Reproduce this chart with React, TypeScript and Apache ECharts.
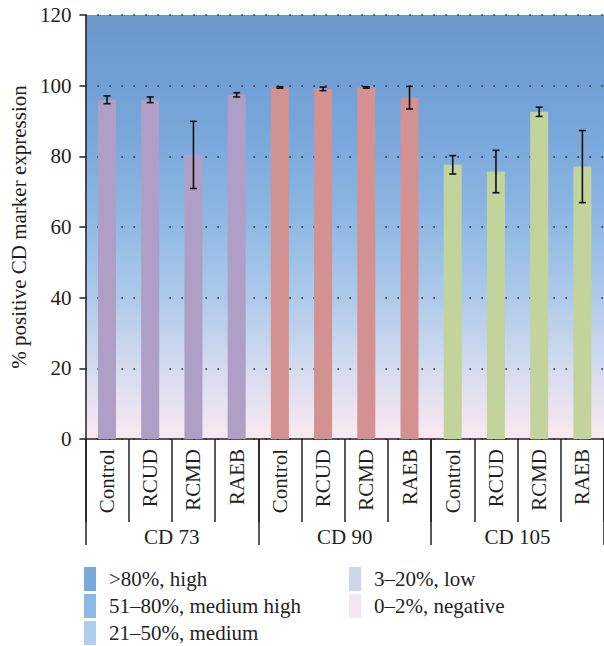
import React, { useEffect, useRef } from "react";
import * as echarts from "echarts";

const groups = ["CD 73", "CD 90", "CD 105"];
const subCategories = [
  "Control", "RCUD", "RCMD", "RAEB",
  "Control", "RCUD", "RCMD", "RAEB",
  "Control", "RCUD", "RCMD", "RAEB",
];
const means = [96.0, 96.0, 80.4, 97.4, 99.5, 99.1, 99.5, 96.6, 77.6, 75.7, 92.6, 77.1];
const errors = [1.1, 0.8, 9.5, 0.6, 0.2, 0.5, 0.2, 3.2, 2.6, 6.0, 1.3, 10.2];
const groupColors = ["#AF9EC5", "#D49192", "#C2D39C"];
const yTicks = { min: 0, max: 120, interval: 20 };
const legendLabels = [
  ">80%, high",
  "51–80%, medium high",
  "21–50%, medium",
  "3–20%, low",
  "0–2%, negative",
];
const legendColors = ["#79A9DA", "#8DB9E5", "#AFCDEC", "#CBD6EC", "#F3E6F0"];

const FONT = "Liberation Serif";
const FS = 21;
const TXT = "#231F20";

export default function App() {
  const ref = useRef<HTMLDivElement>(null);
  useEffect(() => {
    if (!ref.current) return;
    const chart = echarts.init(ref.current, undefined, { renderer: "svg" });

    const legendGraphics: any[] = [];
    legendLabels.forEach((label, i) => {
      const col = i < 3 ? 0 : 1;
      const row = i < 3 ? i : i - 3;
      const sx = col === 0 ? 84 : 349;
      const sy = 567 + row * 27;
      legendGraphics.push({
        type: "rect",
        shape: { x: sx, y: sy, width: 12, height: 24 },
        style: { fill: legendColors[i] },
      });
      legendGraphics.push({
        type: "text",
        x: sx + 25,
        y: sy + 12,
        style: {
          text: label,
          fontFamily: FONT,
          fontSize: FS,
          fill: TXT,
          verticalAlign: "middle",
          align: "left",
        },
      });
    });

    const bg = new echarts.graphic.LinearGradient(0, 0, 0, 1, [
      { offset: 0, color: "#6A96CC" },
      { offset: 0.17, color: "#72A0D5" },
      { offset: 0.33, color: "#7EABDD" },
      { offset: 0.5, color: "#90BAE4" },
      { offset: 0.67, color: "#AFCAEA" },
      { offset: 0.83, color: "#D3DBEF" },
      { offset: 1, color: "#FBE9F1" },
    ]);

    chart.setOption({
      animation: false,
      grid: {
        left: 85,
        top: 15,
        width: 523,
        height: 424,
        show: true,
        borderWidth: 0,
        backgroundColor: bg,
      },
      xAxis: [
        {
          type: "category",
          data: subCategories,
          position: "bottom",
          axisLine: { show: true, lineStyle: { color: TXT, width: 1.5 } },
          axisTick: {
            show: true,
            interval: 0,
            length: 83,
            lineStyle: { color: TXT, width: 1.5 },
          },
          axisLabel: {
            interval: 0,
            rotate: 90,
            margin: 10,
            fontFamily: FONT,
            fontSize: FS,
            color: TXT,
          },
        },
        {
          type: "category",
          data: groups,
          position: "bottom",
          axisLine: { show: false },
          axisTick: {
            show: true,
            interval: 0,
            length: 106,
            lineStyle: { color: TXT, width: 1.5 },
          },
          axisLabel: {
            interval: 0,
            margin: 87,
            fontFamily: FONT,
            fontSize: FS,
            color: TXT,
          },
        },
      ],
      yAxis: {
        type: "value",
        min: yTicks.min,
        max: yTicks.max,
        interval: yTicks.interval,
        name: "% positive CD marker expression",
        nameLocation: "middle",
        nameGap: 56,
        nameTextStyle: { fontFamily: FONT, fontSize: FS, color: TXT },
        axisLine: { show: true, lineStyle: { color: TXT, width: 1.5 } },
        axisTick: { show: true, length: 6, lineStyle: { color: TXT, width: 1.5 } },
        axisLabel: { fontFamily: FONT, fontSize: FS, color: TXT, margin: 14 },
        splitLine: {
          show: true,
          lineStyle: { color: TXT, width: 1.5, type: [1.5, 10.5] },
        },
      },
      series: [
        {
          type: "bar",
          xAxisIndex: 0,
          barWidth: 18,
          data: means.map((v, i) => ({
            value: v,
            itemStyle: { color: groupColors[Math.floor(i / 4)] },
          })),
          z: 2,
        },
        {
          type: "custom",
          xAxisIndex: 0,
          z: 3,
          data: means.map((v, i) => [i, v - errors[i], v + errors[i]]),
          renderItem: (params: any, api: any) => {
            const x = api.value(0);
            const lo = api.coord([x, api.value(1)]);
            const hi = api.coord([x, api.value(2)]);
            const cap = 3.5;
            const style = { stroke: "#111", lineWidth: 1.6 };
            return {
              type: "group",
              children: [
                { type: "line", shape: { x1: lo[0], y1: lo[1], x2: hi[0], y2: hi[1] }, style },
                { type: "line", shape: { x1: lo[0] - cap, y1: lo[1], x2: lo[0] + cap, y2: lo[1] }, style },
                { type: "line", shape: { x1: hi[0] - cap, y1: hi[1], x2: hi[0] + cap, y2: hi[1] }, style },
              ],
            };
          },
        },
      ],
      graphic: legendGraphics,
    });
    return () => chart.dispose();
  }, []);
  return (
    <div
      ref={ref}
      style={{ position: "fixed", left: 0, top: 0, width: 604, height: 646, background: "#fff" }}
    />
  );
}
